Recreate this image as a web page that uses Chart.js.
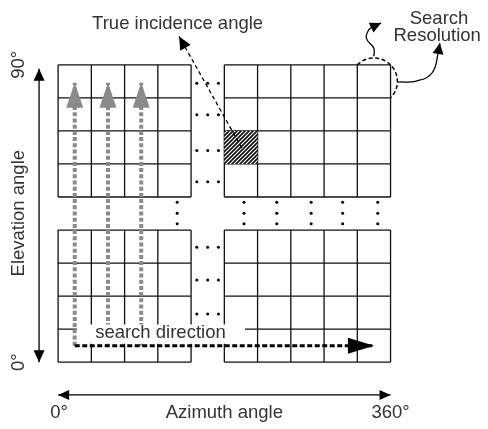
<!DOCTYPE html>
<html>
<head>
<meta charset="utf-8">
<script src="https://cdn.jsdelivr.net/npm/chart.js@4.4.0/dist/chart.umd.min.js"></script>
<style>
  html, body { margin: 0; padding: 0; background: #fff; }
</style>
</head>
<body>
<canvas id="search-grid-chart" width="488" height="429"></canvas>
<script>
// x = azimuth (deg), y = elevation (deg)
const azimuthLeft = [0, 36, 72, 108, 144];
const azimuthRight = [180, 216, 252, 288, 324, 360];
const elevationUpper = [50, 60, 70, 80, 90];
const elevationLower = [0, 10, 20, 30, 40];
const trueCellAzimuth = [180, 216];
const trueCellElevation = [60, 70];

const searchColumns = [18, 54, 90];
const searchRowElevation = 5;
const searchTopElevation = 84.6;
const searchEndAzimuth = 342;

const trueAngleFrom = [199, 64.8];
const trueAngleTo = [131, 98.6];

const rowDotsAzimuth = [150.2, 162, 173.6];
const rowDotsUpper = [84.4, 74.9, 64.1, 54.6];
const rowDotsLower = [34.8, 24.9, 14.6];
const colDotsAzimuth = [128.9, 201.3, 236.8, 274, 308.1, 346.1];
const colDotsElevation = [48.4, 45.1, 41.9];

const azimuthRange = [0, 360];
const elevationRange = [0, 90];
const azimuthTickLabels = ['0°', '360°'];
const elevationTickLabels = ['0°', '90°'];

function gridLines(cols, rows) {
    const pts = [];
    rows.forEach(el => pts.push({x: cols[0], y: el}, {x: cols[cols.length - 1], y: el}, {x: cols[0], y: null}));
    cols.forEach(az => pts.push({x: az, y: rows[0]}, {x: az, y: rows[rows.length - 1]}, {x: az, y: null}));
    return pts;
}

function dots(xs, ys) {
    const pts = [];
    xs.forEach(x => ys.forEach(y => pts.push({x, y})));
    return pts;
}

function hatchPattern() {
    const c = document.createElement('canvas');
    c.width = 4; c.height = 4;
    const g = c.getContext('2d');
    g.fillStyle = '#fff';
    g.fillRect(0, 0, 4, 4);
    g.strokeStyle = '#111';
    g.lineWidth = 1.7;
    g.beginPath();
    g.moveTo(-1, 5); g.lineTo(5, -1);
    g.moveTo(-1, 1); g.lineTo(1, -1);
    g.moveTo(3, 5); g.lineTo(5, 3);
    g.stroke();
    return g.createPattern(c, 'repeat');
}

const lineBase = { showLine: true, pointRadius: 0, fill: false, borderColor: '#111', borderWidth: 1.3, spanGaps: false };

const datasets = [
    { ...lineBase, order: 10, data: gridLines(azimuthLeft, elevationUpper) },
    { ...lineBase, order: 10, data: gridLines(azimuthRight, elevationUpper) },
    { ...lineBase, order: 10, data: gridLines(azimuthLeft, elevationLower) },
    { ...lineBase, order: 10, data: gridLines(azimuthRight, elevationLower) },
    {
        ...lineBase, order: 9, fill: 'shape', borderColor: 'rgba(0,0,0,0)', backgroundColor: hatchPattern(),
        data: [
            {x: trueCellAzimuth[0], y: trueCellElevation[0]}, {x: trueCellAzimuth[1], y: trueCellElevation[0]},
            {x: trueCellAzimuth[1], y: trueCellElevation[1]}, {x: trueCellAzimuth[0], y: trueCellElevation[1]}
        ]
    },
    {
        order: 8, showLine: false, pointRadius: 1.5, pointBorderWidth: 0, pointBackgroundColor: '#000',
        data: [
            ...dots(rowDotsAzimuth, rowDotsUpper),
            ...dots(rowDotsAzimuth, rowDotsLower),
            ...dots(colDotsAzimuth, colDotsElevation)
        ]
    },
    ...searchColumns.map(az => ({
        ...lineBase, order: 7, borderColor: '#8a8a8a', borderWidth: 4, borderDash: [4, 2.2],
        arrowEnd: { len: 25, half: 8.5, color: '#8a8a8a' },
        data: [{x: az, y: searchRowElevation}, {x: az, y: searchTopElevation}]
    })),
    // white box behind the "search direction" label
    {
        ...lineBase, order: 6, fill: 'shape', borderColor: 'rgba(0,0,0,0)', backgroundColor: '#fff',
        data: [{x: 20.3, y: 5.6}, {x: 202.4, y: 5.6}, {x: 202.4, y: 11.4}, {x: 20.3, y: 11.4}]
    },
    {
        ...lineBase, order: 5, borderColor: '#000', borderWidth: 3, borderDash: [5, 2.5],
        arrowEnd: { len: 26, half: 8, color: '#000' },
        data: [{x: searchColumns[0], y: searchRowElevation}, {x: searchEndAzimuth, y: searchRowElevation}]
    },
    {
        ...lineBase, order: 4, borderColor: '#000', borderWidth: 1.3, borderDash: [4, 3],
        arrowEnd: { len: 13, half: 6, color: '#000' },
        data: [{x: trueAngleFrom[0], y: trueAngleFrom[1]}, {x: trueAngleTo[0], y: trueAngleTo[1]}]
    },
    // elevation axis
    {
        ...lineBase, order: 3, borderColor: '#000',
        arrowEnd: { len: 12, half: 5.5, color: '#000' }, arrowStart: true,
        data: [{x: -20.6, y: elevationRange[0]}, {x: -20.6, y: 88.8}]
    },
    // azimuth axis
    {
        ...lineBase, order: 3, borderColor: '#000',
        arrowEnd: { len: 11, half: 5, color: '#000' }, arrowStart: true,
        data: [{x: azimuthRange[0], y: -9.9}, {x: azimuthRange[1], y: -9.9}]
    },
    // curly arrows to "Search Resolution"
    {
        ...lineBase, order: 3, borderColor: '#000', tension: 0.45,
        arrowEnd: { len: 11, half: 5.5, color: '#000' },
        data: [{x: 341.9, y: 92.6}, {x: 341.9, y: 95.0}, {x: 333.9, y: 98.0}, {x: 336.4, y: 100.6}, {x: 341.5, y: 101.6}, {x: 349.7, y: 102.7}]
    },
    {
        ...lineBase, order: 3, borderColor: '#000', tension: 0.45,
        arrowEnd: { len: 11, half: 5.5, color: '#000' },
        data: [{x: 367.5, y: 84.8}, {x: 388, y: 85.1}, {x: 405, y: 87.6}, {x: 411.5, y: 93.5}, {x: 413.4, y: 96.6}]
    }
];

const arrowHeads = {
    id: 'arrowHeads',
    afterDatasetsDraw(chart) {
        const ctx = chart.ctx;
        const head = (tip, from, spec) => {
            const dx = tip.x - from.x, dy = tip.y - from.y;
            const d = Math.hypot(dx, dy);
            const ux = dx / d, uy = dy / d;
            const bx = tip.x - ux * spec.len, by = tip.y - uy * spec.len;
            ctx.beginPath();
            ctx.moveTo(tip.x, tip.y);
            ctx.lineTo(bx - uy * spec.half, by + ux * spec.half);
            ctx.lineTo(bx + uy * spec.half, by - ux * spec.half);
            ctx.closePath();
            ctx.fillStyle = spec.color;
            ctx.fill();
        };
        ctx.save();
        chart.data.datasets.forEach((ds, i) => {
            if (!ds.arrowEnd) return;
            const pts = chart.getDatasetMeta(i).data;
            const n = pts.length;
            head(pts[n - 1], pts[n - 2], ds.arrowEnd);
            if (ds.arrowStart) head(pts[0], pts[1], ds.arrowEnd);
        });
        ctx.restore();
    }
};

const resolutionCircle = {
    id: 'resolutionCircle',
    afterDatasetsDraw(chart, args, opts) {
        const {x, y} = chart.scales;
        const ctx = chart.ctx;
        const cx = x.getPixelForValue(opts.azimuth), cy = y.getPixelForValue(opts.elevation);
        const r = Math.hypot(x.getPixelForValue(opts.cornerAzimuth) - cx, y.getPixelForValue(opts.cornerElevation) - cy);
        ctx.save();
        ctx.setLineDash([4, 2.5]);
        ctx.lineWidth = 1.5;
        ctx.strokeStyle = '#000';
        ctx.beginPath();
        ctx.arc(cx, cy, r, -0.75 * Math.PI, 0.25 * Math.PI);
        ctx.stroke();
        ctx.restore();
    }
};

const diagramText = {
    id: 'diagramText',
    afterDraw(chart, args, opts) {
        const {x, y} = chart.scales;
        const ctx = chart.ctx;
        ctx.save();
        ctx.font = opts.font;
        ctx.fillStyle = opts.color;
        ctx.textAlign = 'center';
        opts.items.forEach(item => {
            ctx.save();
            ctx.translate(x.getPixelForValue(item.x), y.getPixelForValue(item.y));
            if (item.rotate) ctx.rotate(-Math.PI / 2);
            ctx.textBaseline = item.rotate ? 'middle' : 'alphabetic';
            ctx.fillText(item.text, 0, 0);
            ctx.restore();
        });
        ctx.restore();
    }
};

new Chart(document.getElementById('search-grid-chart'), {
    type: 'scatter',
    data: { datasets },
    options: {
        responsive: false,
        animation: false,
        events: [],
        layout: { padding: 0 },
        scales: {
            x: { type: 'linear', display: false, min: -58.58, max: 461.18 },
            y: { type: 'linear', display: false, min: -19.01, max: 108.42 }
        },
        plugins: {
            legend: { display: false },
            tooltip: { enabled: false },
            resolutionCircle: { azimuth: 342, elevation: 85, cornerAzimuth: 324, cornerElevation: 90 },
            diagramText: {
                font: '18.5px "Liberation Sans", Arial, sans-serif',
                color: '#333',
                items: [
                    { text: 'True incidence angle', x: 129.4, y: 101.0 },
                    { text: 'Search', x: 412.5, y: 102.3 },
                    { text: 'Resolution', x: 410.5, y: 97.3 },
                    { text: 'search direction', x: 110.8, y: 7.4 },
                    { text: azimuthTickLabels[0], x: azimuthRange[0] + 1, y: -16.8 },
                    { text: 'Azimuth angle', x: 180, y: -16.8 },
                    { text: azimuthTickLabels[1], x: azimuthRange[1], y: -16.8 },
                    { text: elevationTickLabels[1], x: -42.6, y: elevationRange[1], rotate: true },
                    { text: 'Elevation angle', x: -42.6, y: 45.1, rotate: true },
                    { text: elevationTickLabels[0], x: -42.6, y: elevationRange[0], rotate: true }
                ]
            }
        }
    },
    plugins: [arrowHeads, resolutionCircle, diagramText]
});
</script>
</body>
</html>
